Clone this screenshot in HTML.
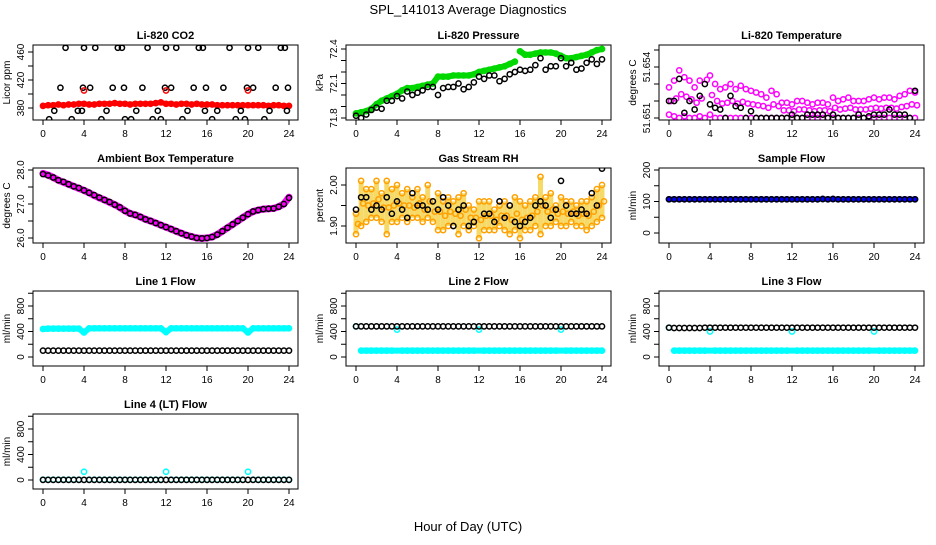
<!DOCTYPE html>
<html><head><meta charset="utf-8"><style>
body{margin:0;background:#fff;}
svg text{font-family:"Liberation Sans",sans-serif;fill:#000;}
</style></head><body>
<svg id="c" width="936" height="540" xmlns="http://www.w3.org/2000/svg">
<text x="468" y="14" font-size="13" text-anchor="middle">SPL_141013  Average Diagnostics</text>
<text x="468" y="531" font-size="13" text-anchor="middle">Hour of Day (UTC)</text>
</svg>
<script>
// ---- data ----
const halfHours = [0,0.5,1,1.5,2,2.5,3,3.5,4,4.5,5,5.5,6,6.5,7,7.5,8,8.5,9,9.5,10,10.5,11,11.5,12,12.5,13,13.5,14,14.5,15,15.5,16,16.5,17,17.5,18,18.5,19,19.5,20,20.5,21,21.5,22,22.5,23,23.5,24];
const co2Red = [383,384,384,385,384,385,385,386,386,385,385,386,386,386,387,386,386,385,386,386,386,386,387,388,386,386,385,386,386,385,386,385,385,385,384,384,384,384,384,384,384,384,384,384,383,384,384,383,383];
const co2BlackX = [0.6,1.1,1.7,2.2,2.8,3.4,3.8,3.9,4.0,4.6,5.1,5.7,6.2,6.8,7.3,7.7,7.9,8.0,8.6,9.1,9.7,10.2,10.7,11.2,11.5,11.9,12.0,12.5,13.0,13.6,14.1,14.7,15.2,15.6,15.8,15.9,16.5,17.0,17.6,18.2,18.8,19.3,19.7,19.9,20.0,20.5,21.0,21.6,22.1,22.7,23.2,23.6,23.8,23.9];
const co2BlackY = [364,376,409,466,364,376,376,409,466,409,466,364,376,409,466,466,409,364,364,376,409,466,364,376,364,409,466,409,466,364,376,409,466,466,376,409,364,376,409,466,364,376,364,409,466,409,466,364,376,409,466,466,376,409];
const pressGreen = [71.84,71.85,71.86,71.88,71.92,71.95,71.97,71.99,72.01,72.04,72.06,72.06,72.07,72.08,72.09,72.10,72.16,72.16,72.16,72.17,72.17,72.17,72.17,72.18,72.20,72.21,72.22,72.23,72.24,72.25,72.27,72.29,72.38,72.35,72.35,72.36,72.37,72.37,72.37,72.36,72.34,72.32,72.32,72.33,72.34,72.35,72.37,72.39,72.40];
const pressBlack = [71.82,71.80,71.83,71.87,71.89,71.88,71.95,71.95,71.99,71.97,72.03,72.00,72.02,72.04,72.07,72.07,72.00,72.06,72.07,72.07,72.10,72.05,72.07,72.11,72.16,72.14,72.17,72.17,72.12,72.14,72.18,72.20,72.22,72.21,72.22,72.26,72.32,72.22,72.25,72.25,72.32,72.25,72.28,72.22,72.23,72.28,72.31,72.27,72.31];
const tempMagHi = [51.6528,51.6532,51.6538,51.6534,51.6532,51.6528,51.6532,51.6555,51.6535,51.6530,51.6527,51.6528,51.6530,51.6527,51.6529,51.6527,51.6526,51.6525,51.6524,51.6522,51.6526,51.6524,51.6519,51.6519,51.6518,51.6520,51.6520,51.6519,51.6518,51.6519,51.6519,51.6518,51.6522,51.6520,51.6521,51.6522,51.6520,51.6520,51.6520,51.6521,51.6522,51.6521,51.6522,51.6522,51.6521,51.6523,51.6524,51.6526,51.6525];
const tempMagLo = [51.6512,51.6511,51.6510,51.6511,51.6510,51.6510,51.6511,51.6510,51.6512,51.6510,51.6510,51.6510,51.6510,51.6510,51.6510,51.6510,51.6510,51.6510,51.6510,51.6510,51.6510,51.6510,51.6510,51.6510,51.6510,51.6510,51.6510,51.6510,51.6510,51.6510,51.6510,51.6510,51.6510,51.6510,51.6510,51.6510,51.6510,51.6510,51.6510,51.6510,51.6510,51.6510,51.6510,51.6510,51.6510,51.6510,51.6510,51.6510,51.6510];
const tempBlack = [51.6520,51.6520,51.6533,51.6513,51.6520,51.6515,51.6523,51.6530,51.6518,51.6516,51.6515,51.6510,51.6523,51.6517,51.6516,51.6510,51.6514,51.6510,51.6510,51.6510,51.6510,51.6510,51.6510,51.6510,51.6512,51.6510,51.6510,51.6512,51.6512,51.6512,51.6512,51.6510,51.6512,51.6510,51.6510,51.6510,51.6510,51.6512,51.6510,51.6511,51.6512,51.6512,51.6512,51.6515,51.6512,51.6512,51.6512,51.6510,51.6526];
const ambMag = [27.90,27.85,27.78,27.70,27.64,27.58,27.52,27.46,27.40,27.33,27.25,27.18,27.12,27.05,26.98,26.90,26.80,26.72,26.68,26.62,26.55,26.50,26.44,26.38,26.32,26.26,26.20,26.14,26.08,26.04,26.00,25.99,26.00,26.03,26.10,26.20,26.30,26.40,26.50,26.60,26.70,26.78,26.82,26.85,26.86,26.87,26.92,27.00,27.20];
const ambBlack = [27.88,27.84,27.78,27.70,27.65,27.58,27.52,27.47,27.40,27.33,27.26,27.19,27.12,27.06,26.98,26.90,26.80,26.72,26.68,26.62,26.55,26.50,26.44,26.38,26.32,26.26,26.20,26.14,26.08,26.04,26.00,25.99,26.00,26.03,26.10,26.20,26.30,26.40,26.50,26.60,26.70,26.78,26.82,26.85,26.86,26.87,26.92,27.00,27.18];
const rhHi = [1.93,2.01,1.99,1.99,2.01,1.98,2.01,1.99,2.00,1.98,1.99,1.97,1.99,1.97,2.00,1.96,1.98,1.96,1.97,1.96,1.97,1.98,1.95,1.94,1.96,1.96,1.96,1.94,1.95,1.96,1.95,1.97,1.96,1.95,1.96,1.97,2.02,1.97,1.98,1.95,1.97,1.96,1.96,1.95,1.96,1.96,1.97,1.99,2.00];
const rhLo = [1.88,1.90,1.91,1.92,1.92,1.91,1.88,1.91,1.91,1.92,1.91,1.92,1.92,1.91,1.92,1.91,1.89,1.89,1.90,1.90,1.88,1.90,1.89,1.90,1.87,1.89,1.89,1.89,1.90,1.89,1.88,1.89,1.87,1.89,1.89,1.90,1.88,1.90,1.90,1.91,1.90,1.90,1.91,1.90,1.90,1.89,1.90,1.91,1.92];
const rhBlack = [1.94,1.97,1.97,1.94,1.95,1.94,1.97,1.93,1.96,1.94,1.92,1.98,1.95,1.95,1.94,1.96,1.94,1.97,1.95,1.90,1.94,1.95,1.90,1.91,1.85,1.93,1.93,1.91,1.96,1.92,1.95,1.91,1.90,1.91,1.92,1.95,1.96,1.95,1.92,1.94,2.01,1.95,1.93,1.93,1.94,1.93,1.98,1.95,2.04];
const sampleFlow = [107,107,107,107,107,107,107,107,107,107,107,107,107,107,107,107,107,107,107,107,107,107,107,107,107,107,107,107,107,107,108,107,108,107,107,107,107,107,107,107,107,107,107,107,107,107,107,107,107];
const line1Cyan = [440,445,445,445,445,445,445,445,385,450,450,450,450,450,450,450,450,450,450,450,450,450,450,450,390,450,450,450,450,450,450,450,450,450,450,450,450,450,450,450,385,450,450,450,450,450,450,450,450];
const line1Black = [100,100,100,100,100,100,100,100,100,100,100,100,100,100,100,100,100,100,100,100,100,100,100,100,100,100,100,100,100,100,100,100,100,100,100,100,100,100,100,100,100,100,100,100,100,100,100,100,100];
const line2Cyan = [480,100,100,100,100,100,100,100,430,100,100,100,100,100,100,100,100,100,100,100,100,100,100,100,430,100,100,100,100,100,100,100,100,100,100,100,100,100,100,100,430,100,100,100,100,100,100,100,100];
const line2Black = [480,480,480,480,480,480,480,480,480,480,480,480,480,480,480,480,480,480,480,480,480,480,480,480,480,480,480,480,480,480,480,480,480,480,480,480,480,480,480,480,480,480,480,480,480,480,480,480,480];
const line3Cyan = [460,100,100,100,100,100,100,100,400,100,100,100,100,100,100,100,100,100,100,100,100,100,100,100,400,100,100,100,100,100,100,100,100,100,100,100,100,100,100,100,400,100,100,100,100,100,100,100,100];
const line3Black = [460,455,455,455,455,455,455,460,460,460,460,460,460,460,460,460,460,460,460,460,460,460,460,460,460,460,460,460,460,460,460,460,460,460,460,460,460,460,460,460,460,460,460,460,460,460,460,460,460];
const line4Cyan = [5,5,5,5,5,5,5,5,130,5,5,5,5,5,5,5,5,5,5,5,5,5,5,5,130,5,5,5,5,5,5,5,5,5,5,5,5,5,5,5,130,5,5,5,5,5,5,5,5];
const line4Black = [2,2,2,2,2,2,2,2,2,2,2,2,2,2,2,2,2,2,2,2,2,2,2,2,2,2,2,2,2,2,2,2,2,2,2,2,2,2,2,2,2,2,2,2,2,2,2,2,2];
const xTicks = [0,4,8,12,16,20,24];

// ---- drawing ----
const svg = document.getElementById('c');
const NS = 'http://www.w3.org/2000/svg';
function mk(tag, attrs, parent){const e=document.createElementNS(NS,tag);for(const k in attrs)e.setAttribute(k,attrs[k]);(parent||svg).appendChild(e);return e;}

function panel(p){
  const L=33+313*p.col, T=45+123*p.row, W=265, H=75;
  const g=mk('g',{});
  
  
  const xs=h=>L+10+h*246/24;
  const ys=v=>T+p.py0+(v-p.v0)*(p.py1-p.py0)/(p.v1-p.v0);
  const t=mk('text',{x:L+W/2,y:T-6,'font-size':11,'font-weight':'bold','text-anchor':'middle'},g);
  t.textContent=p.title;
  
  
  const yl=mk('text',{x:0,y:0,'font-size':10,'text-anchor':'middle',transform:`translate(${L-23},${T+H/2}) rotate(-90)`},g);
  yl.textContent=p.ylab;
  
  
  xTicks.forEach(v=>{
    mk('line',{x1:xs(v),x2:xs(v),y1:T+H,y2:T+H+5,stroke:'#000'},g);
    const tx=mk('text',{x:xs(v),y:T+H+17,'font-size':10,'text-anchor':'middle'},g);
    tx.textContent=v;
    
    
  });
  p.yt.forEach(v=>{mk('line',{x1:L-5,x2:L,y1:ys(v),y2:ys(v),stroke:'#000'},g);});
  p.yl.forEach(v=>{
    const tx=mk('text',{x:0,y:0,'font-size':10,'text-anchor':'middle',transform:`translate(${L-9},${ys(v)}) rotate(-90)`},g);
    tx.textContent=v;
    
    
  });
  const cp='clip'+p.row+p.col;
  const cl=mk('clipPath',{id:cp},g); mk('rect',{x:L,y:T,width:W,height:H},cl);
  const d=mk('g',{'clip-path':`url(#${cp})`},g);
  (p.series||[]).forEach(s=>{
    const X=s.x||halfHours;
    if(s.band){
      // connect consecutive points; isolated outliers are bridged over
      let idx=X.map((h,i)=>i);
      if(s.bridge){
        const sorted=s.y.slice().sort((a,b)=>a-b), med=sorted[Math.floor(sorted.length/2)];
        idx=idx.filter(i=>Math.abs(ys(s.y[i])-ys(med))<8);
      }
      for(let k=1;k<idx.length;k++){
        const a=idx[k-1], b=idx[k];
        const y0=ys(s.y[a]), y1=ys(s.y[b]);
        if(Math.abs(y1-y0)>8) continue;
        const sg=mk('line',{x1:xs(X[a]),y1:y0,x2:xs(X[b]),y2:y1,stroke:s.c,'stroke-width':s.band,'stroke-linecap':'round'},d);
        
        
      }
    }
    if(s.lo && s.fill){
      X.forEach((h,i)=>{
        const r=mk('rect',{x:xs(h)-2.5,y:ys(s.y[i]),width:5,height:Math.max(1,ys(s.lo[i])-ys(s.y[i])),fill:s.fill,opacity:0.6},d);
        
        
      });
    }
    X.forEach((h,i)=>{
      const c=mk('circle',{cx:xs(h),cy:ys(s.y[i]),r:s.r||2.6,fill:'none',stroke:s.c,'stroke-width':s.sw||1.5},d);
      
      
      if(s.lo){
        const c2=mk('circle',{cx:xs(h),cy:ys(s.lo[i]),r:2.6,fill:'none',stroke:s.c,'stroke-width':1.5},d);
        
        
        const c3=mk('circle',{cx:xs(h)+2,cy:(ys(s.lo[i])+ys(s.y[i]))/2,r:2.6,fill:'none',stroke:s.c,'stroke-width':1.5},d);
        
        
      }
    });
  });
  const b=mk('rect',{x:L,y:T,width:W,height:H,fill:'none',stroke:'#000','stroke-width':1},g);
  
  
}

panel({name:'co2-panel',col:0,row:0,title:'Li-820 CO2',ylab:'Licor ppm',v0:380,py0:63,v1:460,py1:7,yt:[380,400,420,440,460],yl:[380,420,460],
  series:[{n:'co2-red',y:co2Red,c:'#f00',band:5},{n:'co2-black',x:co2BlackX,y:co2BlackY,c:'#000'},
  {n:'co2-red-spikes',x:[4,12,20],y:[405,405,405],c:'#f00'}]});
panel({name:'pressure-panel',col:1,row:0,title:'Li-820 Pressure',ylab:'kPa',v0:71.8,py0:73,v1:72.4,py1:4,yt:[71.8,71.9,72.0,72.1,72.2,72.3,72.4],yl:['71.8','72.1','72.4'].map(Number),
  series:[{n:'pressure-green',y:pressGreen,c:'#00d800',band:6},{n:'pressure-black',y:pressBlack,c:'#000'}]});
panel({name:'temperature-panel',col:2,row:0,title:'Li-820 Temperature',ylab:'degrees C',v0:51.651,py0:73,v1:51.654,py1:22,yt:[51.651,51.652,51.653,51.654,51.655],yl:[51.651,51.654],
  series:[{n:'temp-magenta',y:tempMagHi,lo:tempMagLo,c:'#f0f'},{n:'temp-black',y:tempBlack,c:'#000'}]});
panel({name:'ambient-panel',col:0,row:1,title:'Ambient Box Temperature',ylab:'degrees C',v0:26,py0:70,v1:28,py1:2,yt:[26,26.5,27,27.5,28],yl:['26.0','27.0','28.0'],
  series:[{n:'ambient-magenta',y:ambMag,c:'#f0f',band:7},{n:'ambient-black',y:ambBlack,c:'#000'}]});
panel({name:'rh-panel',col:1,row:1,title:'Gas Stream RH',ylab:'percent',v0:1.9,py0:58,v1:2.0,py1:17,yt:[1.9,1.95,2.0],yl:['1.90','2.00'],
  series:[{n:'rh-orange',y:rhHi,lo:rhLo,c:'#ffa000',fill:'#f0c000'},{n:'rh-black',y:rhBlack,c:'#000'}]});
panel({name:'sample-flow-panel',col:2,row:1,title:'Sample Flow',ylab:'ml/min',v0:0,py0:65,v1:200,py1:2,yt:[0,50,100,150,200],yl:[0,100,200],
  series:[{n:'sample-blue',y:sampleFlow,c:'#00f',band:5},{n:'sample-black',y:sampleFlow,c:'#000'}]});
const flowAx={v0:0,py0:66,v1:800,py1:15,yt:[0,200,400,600,800,1000],yl:[0,400,800],ylab:'ml/min'};
panel(Object.assign({name:'line1-panel',col:0,row:2,title:'Line 1 Flow',series:[{n:'line1-cyan',y:line1Cyan,c:'#0ff',band:6,bridge:true},{n:'line1-black',y:line1Black,c:'#000'}]},flowAx));
panel(Object.assign({name:'line2-panel',col:1,row:2,title:'Line 2 Flow',series:[{n:'line2-cyan',y:line2Cyan,c:'#0ff',band:6,bridge:true},{n:'line2-black',y:line2Black,c:'#000'}]},flowAx));
panel(Object.assign({name:'line3-panel',col:2,row:2,title:'Line 3 Flow',series:[{n:'line3-cyan',y:line3Cyan,c:'#0ff',band:6,bridge:true},{n:'line3-black',y:line3Black,c:'#000'}]},flowAx));
panel(Object.assign({name:'line4-panel',col:0,row:3,title:'Line 4 (LT) Flow',series:[{n:'line4-cyan',y:line4Cyan,c:'#0ff'},{n:'line4-black',y:line4Black,c:'#000'}]},flowAx));
</script>
</body></html>
